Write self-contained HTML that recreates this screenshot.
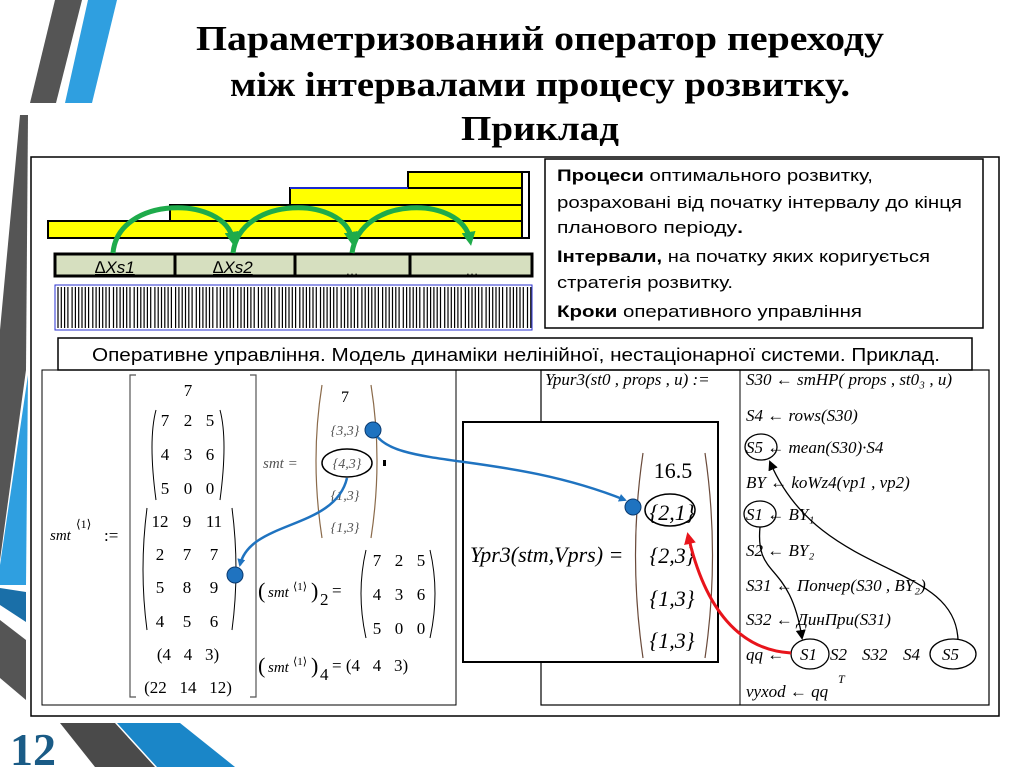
<!DOCTYPE html>
<html><head><meta charset="utf-8"><style>
html,body{margin:0;padding:0;background:#fff;}
svg{display:block}
.t{font-family:"Liberation Serif",serif;font-weight:bold;font-size:35px;}
.s{font-family:"Liberation Sans",sans-serif;font-size:17px;}
.m{font-family:"Liberation Serif",serif;font-size:17px;}
.i{font-family:"Liberation Serif",serif;font-style:italic;font-size:17px;}
</style></head><body>
<svg width="1024" height="767" viewBox="0 0 1024 767" xmlns="http://www.w3.org/2000/svg">
<defs>
<marker id="ab" markerWidth="8" markerHeight="8" refX="6" refY="4" orient="auto" markerUnits="userSpaceOnUse"><path d="M0,0 L8,4 L0,8 z" fill="#1f73c0"/></marker>
<marker id="ak" markerWidth="10" markerHeight="10" refX="8" refY="5" orient="auto" markerUnits="userSpaceOnUse"><path d="M0,0 L10,5 L0,10 z" fill="#000"/></marker>
<marker id="ar" markerWidth="12" markerHeight="12" refX="9" refY="6" orient="auto" markerUnits="userSpaceOnUse"><path d="M0,0 L12,6 L0,12 z" fill="#e8141b"/></marker>
<marker id="ag" markerWidth="14" markerHeight="14" refX="8" refY="7" orient="auto" markerUnits="userSpaceOnUse"><path d="M0,0 L14,7 L0,14 z" fill="#1eab4b"/></marker>
</defs>
<polygon points="55,0 82,0 56,103 30,103" fill="#555"/>
<polygon points="88,0 117,0 92,103 65,103" fill="#2f9fe0"/>
<polygon points="20,115 28,115 26,370 0,560 0,330" fill="#555"/>
<polygon points="28,375 26,585 0,585 0,565" fill="#2f9fe0"/>
<polygon points="0,588 26,592 26,622 0,605" fill="#1a6fa8"/>
<polygon points="0,620 26,640 26,700 0,678" fill="#555"/>
<polygon points="60,723 115,723 155,767 95,767" fill="#4a4a4a"/>
<polygon points="117,723 180,723 235,767 157,767" fill="#1a86c8"/>
<text x="10" y="765" font-family="Liberation Serif,serif" font-weight="bold" font-size="46" fill="#1a5b86">12</text>
<text class="t" x="540" y="50" text-anchor="middle" textLength="688" lengthAdjust="spacingAndGlyphs">Параметризований оператор переходу</text>
<text class="t" x="540" y="96" text-anchor="middle" textLength="620" lengthAdjust="spacingAndGlyphs">між інтервалами процесу розвитку.</text>
<text class="t" x="540" y="140" text-anchor="middle" textLength="158" lengthAdjust="spacingAndGlyphs">Приклад</text>
<rect x="31" y="157" width="968" height="559" fill="none" stroke="#000" stroke-width="1.5"/>
<rect x="408" y="172" width="114" height="16" fill="#ffff00" stroke="#000" stroke-width="2"/>
<rect x="290" y="188" width="232" height="17" fill="#ffff00" stroke="#000" stroke-width="2"/>
<line x1="290" y1="188" x2="408" y2="188" stroke="#1a2ad0" stroke-width="2"/>
<rect x="170" y="205" width="352" height="16" fill="#ffff00" stroke="#000" stroke-width="2"/>
<rect x="48" y="221" width="474" height="17" fill="#ffff00" stroke="#000" stroke-width="2"/>
<rect x="522" y="172" width="7" height="66" fill="#fff" stroke="#000" stroke-width="2"/>
<g fill="#d6dfbf" stroke="#000" stroke-width="3">
<rect x="55" y="254" width="120" height="22"/><rect x="175" y="254" width="120" height="22"/>
<rect x="295" y="254" width="115" height="22"/><rect x="410" y="254" width="122" height="22"/>
</g>
<g font-family="Liberation Sans,sans-serif" font-style="italic" font-size="17">
<text x="95" y="273" text-decoration="underline">∆Xs1</text>
<text x="213" y="273" text-decoration="underline">∆Xs2</text>
</g>
<text x="352" y="275" font-family="Liberation Sans,sans-serif" font-size="13" text-anchor="middle">…</text>
<text x="472" y="275" font-family="Liberation Sans,sans-serif" font-size="13" text-anchor="middle">…</text>
<rect x="55" y="285" width="477" height="45" fill="#fff" stroke="#2a30d0" stroke-width="1"/>
<g id="st"></g>
<g fill="none" stroke="#1eab4b" stroke-width="5">
<path d="M113,253 C118,195 225,195 233,240" marker-end="url(#ag)"/>
<path d="M233,253 C240,195 345,195 352,240" marker-end="url(#ag)"/>
<path d="M352,253 C360,195 462,195 470,240" marker-end="url(#ag)"/>
</g>
<rect x="545" y="159" width="438" height="169" fill="#fff" stroke="#000" stroke-width="1.5"/>
<g class="s">
<text x="557" y="181" textLength="316" lengthAdjust="spacingAndGlyphs"><tspan font-weight="bold">Процеси</tspan> оптимального розвитку,</text>
<text x="557" y="208" textLength="405" lengthAdjust="spacingAndGlyphs">розраховані від початку інтервалу до кінця</text>
<text x="557" y="233" textLength="186" lengthAdjust="spacingAndGlyphs">планового періоду<tspan font-weight="bold">.</tspan></text>
<text x="557" y="262" textLength="373" lengthAdjust="spacingAndGlyphs"><tspan font-weight="bold">Інтервали,</tspan> на початку яких коригується</text>
<text x="557" y="288" textLength="176" lengthAdjust="spacingAndGlyphs">стратегія розвитку.</text>
<text x="557" y="317" textLength="305" lengthAdjust="spacingAndGlyphs"><tspan font-weight="bold">Кроки</tspan> оперативного управління</text>
</g>
<rect x="58" y="338" width="914" height="32" fill="#fff" stroke="#000" stroke-width="1.5"/>
<text x="92" y="361" font-family="Liberation Sans,sans-serif" font-size="18" textLength="848" lengthAdjust="spacingAndGlyphs">Оперативне управління. Модель динаміки нелінійної, нестаціонарної системи. Приклад.</text>
<rect x="42" y="370" width="414" height="335" fill="none" stroke="#000" stroke-width="1"/>
<g class="m">
<text x="50" y="540" font-style="italic" font-size="15">smt</text>
<text x="76" y="528" font-size="12">⟨1⟩</text>
<text x="104" y="541">:=</text>
<path d="M136,375 H130 V697 H136 M250,375 H256 V697 H250" fill="none" stroke="#555" stroke-width="1.2"/>
<text x="188" y="396" text-anchor="middle">7</text>
<g text-anchor="middle">
<text x="165" y="426">7</text><text x="188" y="426">2</text><text x="210" y="426">5</text>
<text x="165" y="460">4</text><text x="188" y="460">3</text><text x="210" y="460">6</text>
<text x="165" y="494">5</text><text x="188" y="494">0</text><text x="210" y="494">0</text>
<text x="160" y="527">12</text><text x="187" y="527">9</text><text x="214" y="527">11</text>
<text x="160" y="560">2</text><text x="187" y="560">7</text><text x="214" y="560">7</text>
<text x="160" y="593">5</text><text x="187" y="593">8</text><text x="214" y="593">9</text>
<text x="160" y="627">4</text><text x="187" y="627">5</text><text x="214" y="627">6</text>
<text x="188" y="660" xml:space="preserve">(4   4   3)</text>
<text x="188" y="693" xml:space="preserve">(22   14   12)</text>
</g>
<path d="M156,410 Q148,440 156,500 M220,410 Q228,440 220,500 M147,508 Q139,570 147,630 M232,508 Q240,570 232,630" fill="none" stroke="#000" stroke-width="1"/>
<text x="263" y="468" font-style="italic" font-size="15" fill="#555">smt =</text>
<path d="M322,385 Q310,460 322,538 M371,385 Q383,460 371,538" fill="none" stroke="#8a6a4a" stroke-width="1.2"/>
<g text-anchor="middle" font-style="italic" font-size="14" fill="#555">
<text x="345" y="402" font-style="normal" font-size="16" fill="#000">7</text>
<text x="345" y="435">{3,3}</text>
<text x="347" y="468">{4,3}</text>
<text x="345" y="500">{1,3}</text>
<text x="345" y="532">{1,3}</text>
</g>
<ellipse cx="347" cy="463" rx="25" ry="14" fill="none" stroke="#000" stroke-width="1.5"/>
<rect x="383" y="460" width="3" height="6" fill="#000"/>
<text x="258" y="598" font-size="22">(</text><text x="268" y="597" font-style="italic" font-size="15">smt</text><text x="293" y="590" font-size="11">⟨1⟩</text><text x="311" y="598" font-size="22">)</text><text x="320" y="605">2</text><text x="332" y="596">=</text>
<path d="M366,550 Q356,593 366,638 M430,550 Q440,593 430,638" fill="none" stroke="#000"/>
<g text-anchor="middle"><text x="377" y="566">7</text><text x="399" y="566">2</text><text x="421" y="566">5</text>
<text x="377" y="600">4</text><text x="399" y="600">3</text><text x="421" y="600">6</text>
<text x="377" y="634">5</text><text x="399" y="634">0</text><text x="421" y="634">0</text></g>
<text x="258" y="673" font-size="22">(</text><text x="268" y="672" font-style="italic" font-size="15">smt</text><text x="293" y="665" font-size="11">⟨1⟩</text><text x="311" y="673" font-size="22">)</text><text x="320" y="680">4</text><text x="332" y="671" xml:space="preserve">= (4   4   3)</text>
</g>
<rect x="541" y="370" width="448" height="335" fill="none" stroke="#000" stroke-width="1.2"/>
<line x1="740" y1="370" x2="740" y2="705" stroke="#000"/>
<g class="i">
<text x="545" y="385">Ypur3(st0 , props , u) :=</text>
<text x="746" y="385">S30 ← smHP( props , st0₃ , u)</text>
<text x="746" y="421">S4 ← rows(S30)</text>
<text x="746" y="453">S5 ← mean(S30)·S4</text>
<text x="746" y="488">BY ← koWz4(vp1 , vp2)</text>
<text x="746" y="520">S1 ← BY₁</text>
<text x="746" y="556">S2 ← BY₂</text>
<text x="746" y="591">S31 ← Попчер(S30 , BY₂)</text>
<text x="746" y="625">S32 ← ДинПри(S31)</text>
<text x="746" y="660">qq ←</text>
<text x="800" y="660">S1</text><text x="830" y="660">S2</text><text x="862" y="660">S32</text><text x="903" y="660">S4</text><text x="942" y="660">S5</text>
<text x="746" y="697">vyxod ← qq</text><text x="838" y="683" font-size="12">T</text>
</g>
<g fill="none" stroke="#000" stroke-width="1.3">
<ellipse cx="761" cy="447" rx="16" ry="13"/>
<ellipse cx="760" cy="514" rx="16" ry="13"/>
<ellipse cx="810" cy="654" rx="19" ry="15"/>
<ellipse cx="953" cy="654" rx="23" ry="15"/>
<path d="M760,527 C755,580 790,560 802,638" marker-end="url(#ak)"/>
<path d="M958,640 C955,560 820,580 770,462" marker-end="url(#ak)"/>
</g>
<rect x="463" y="422" width="255" height="240" fill="#fff" stroke="#000" stroke-width="2"/>
<text x="470" y="562" font-family="Liberation Serif,serif" font-style="italic" font-size="22">Ypr3(stm,Vprs) =</text>
<path d="M643,453 Q628,555 643,658 M705,453 Q720,555 705,658" fill="none" stroke="#6a4a3a" stroke-width="1.2"/>
<g font-family="Liberation Serif,serif" font-size="22" text-anchor="middle">
<text x="673" y="478">16.5</text>
<text x="672" y="520" font-style="italic">{2,1}</text>
<text x="672" y="563" font-style="italic">{2,3}</text>
<text x="672" y="606" font-style="italic">{1,3}</text>
<text x="672" y="648" font-style="italic">{1,3}</text>
</g>
<ellipse cx="670" cy="510" rx="25" ry="16" fill="none" stroke="#000" stroke-width="1.5"/>
<path d="M373,430 C390,470 500,450 625,500" fill="none" stroke="#1f73c0" stroke-width="2.5" marker-end="url(#ab)"/>
<circle cx="373" cy="430" r="8" fill="#1f73c0" stroke="#0a3a70"/>
<circle cx="633" cy="507" r="8" fill="#1f73c0" stroke="#0a3a70"/>
<path d="M347,478 C335,530 250,520 240,565" fill="none" stroke="#1f73c0" stroke-width="2.5" marker-end="url(#ab)"/>
<circle cx="235" cy="575" r="8" fill="#1f73c0" stroke="#0a3a70"/>
<path d="M791,653 C740,650 705,610 688,535" fill="none" stroke="#e8141b" stroke-width="3" marker-end="url(#ar)"/>
</svg>
<script>
(function(){var g=document.getElementById('st'),s='',x=58,i=0;while(x<531){s+='M'+x.toFixed(1)+' 287V328';x+=(i%6==3)?4.2:3.3;i++;}
var p=document.createElementNS('http://www.w3.org/2000/svg','path');p.setAttribute('d',s);p.setAttribute('stroke','#000');p.setAttribute('stroke-width','1.2');g.appendChild(p);})();
</script>
</body></html>
